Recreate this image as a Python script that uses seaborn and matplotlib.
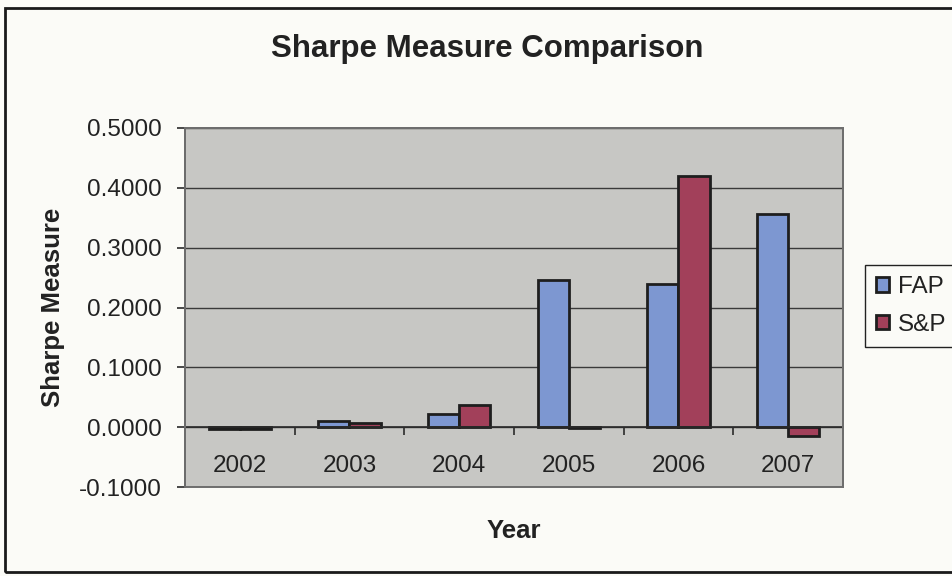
import matplotlib
matplotlib.use("Agg")
import matplotlib.pyplot as plt
from matplotlib.patches import Rectangle
import seaborn as sns
import pandas as pd

years = ["2002", "2003", "2004", "2005", "2006", "2007"]
fap = [-0.003, 0.010, 0.022, 0.246, 0.240, 0.357]
snp = [-0.003, 0.007, 0.037, -0.002, 0.419, -0.015]
series_names = ["FAP", "S&P"]
y_ticks = [-0.1, 0.0, 0.1, 0.2, 0.3, 0.4, 0.5]

df = pd.DataFrame({
    "Year": years * 2,
    "Sharpe": fap + snp,
    "Series": [series_names[0]] * len(years) + [series_names[1]] * len(years),
})

sns.set_theme(style="white")
plt.rcParams["font.family"] = ["Liberation Sans", "DejaVu Sans"]
text_color = "#222222"

fig = plt.figure(figsize=(9.53, 5.76), dpi=100, facecolor="#fbfbf7")
ax = fig.add_axes([185 / 953, 1 - 487 / 576, 658 / 953, 359 / 576])
ax.set_facecolor("#c7c7c4")

sns.barplot(
    data=df, x="Year", y="Sharpe", hue="Series", order=years,
    hue_order=series_names, palette=["#7d97d1", "#a2405a"],
    width=0.57, edgecolor="#1e1e1e", linewidth=2.0, errorbar=None,
    saturation=1, ax=ax, zorder=3,
)

ax.set_ylim(-0.1, 0.5)
ax.set_xlim(-0.5, len(years) - 0.5)
ax.set_yticks(y_ticks)
ax.set_yticklabels([f"{v:.4f}" for v in y_ticks], fontsize=17.5, color=text_color)
ax.yaxis.grid(True, color="#3a3a3a", linewidth=1.0, zorder=1)
ax.set_axisbelow(True)

# category axis crosses at zero; ticks sit between categories
ax.spines["bottom"].set_position(("data", 0))
ax.spines["bottom"].set_color("#2a2a2a")
ax.spines["bottom"].set_linewidth(1.2)
ax.spines["bottom"].set_zorder(4)
ax.set_xticks([i - 0.5 for i in range(len(years) + 1)])
ax.set_xticklabels([])
ax.set_xticks(range(len(years)), minor=True)
ax.set_xticklabels(years, minor=True, fontsize=17.5, color=text_color)
ax.tick_params(axis="x", which="major", direction="out", length=6,
               width=1.2, color="#2a2a2a", bottom=True)
ax.tick_params(axis="x", which="minor", length=0, pad=20, bottom=True)
ax.tick_params(axis="y", direction="out", length=6, width=1.2,
               color="#2a2a2a", pad=11, left=True)

ax.spines["left"].set_color("#2a2a2a")
ax.spines["left"].set_linewidth(1.4)
for side in ("top", "right"):
    ax.spines[side].set_color("#6e6e6e")
    ax.spines[side].set_linewidth(1.4)
ax.add_patch(Rectangle((0, 0), 1, 1, transform=ax.transAxes, fill=False,
                       edgecolor="#6e6e6e", linewidth=1.4, zorder=5,
                       clip_on=False))

ax.set_xlabel("Year", fontsize=18.5, fontweight="bold", color=text_color)
ax.set_ylabel("Sharpe Measure", fontsize=18.5, fontweight="bold",
              color=text_color)
ax.xaxis.set_label_coords(0.5, -0.09)
ax.yaxis.set_label_coords(-0.183, 0.5)

handles, labels = ax.get_legend_handles_labels()
if ax.get_legend() is not None:
    ax.get_legend().remove()
leg = fig.legend(
    handles, labels, loc="upper left",
    bbox_to_anchor=(865 / 953, 1 - 265 / 576), bbox_transform=fig.transFigure,
    fontsize=17.5, frameon=True, fancybox=False, edgecolor="#222222",
    framealpha=1, facecolor="#fbfbf7", handlelength=0.55, handleheight=0.55,
    handletextpad=0.35, labelspacing=0.65, borderpad=0.45, borderaxespad=0,
)
leg.get_frame().set_linewidth(1.0)
for t in leg.get_texts():
    t.set_color(text_color)

fig.text(487 / 953, 1 - 49 / 576, "Sharpe Measure Comparison", ha="center",
         va="center", fontsize=22.5, fontweight="bold", color=text_color)

# chart area border
fig.patches.append(Rectangle((5 / 953, 1 - 572 / 576), 1.0, 564 / 576,
                             transform=fig.transFigure, fill=False,
                             edgecolor="#1a1a1a", linewidth=2.0))

fig.savefig("out.png", dpi=100, facecolor=fig.get_facecolor())
